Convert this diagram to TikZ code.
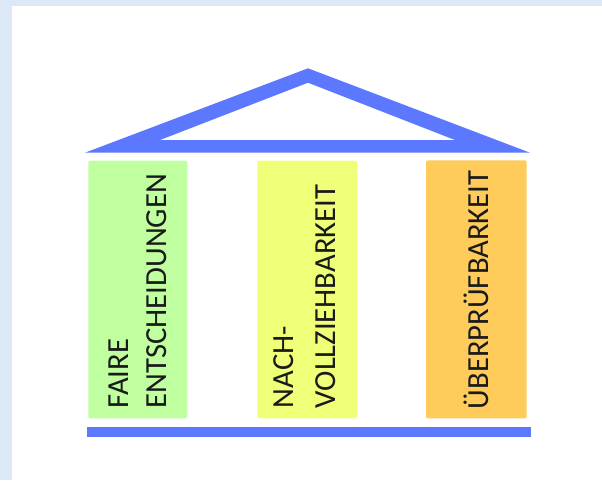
\documentclass[tikz,border=0pt]{standalone}
\usepackage{fontspec}
\setmainfont{Carlito}
\definecolor{bgblue}{RGB}{220,232,245}
\definecolor{roofblue}{RGB}{92,120,255}
\definecolor{colgreen}{RGB}{191,255,160}
\definecolor{colyellow}{RGB}{240,255,120}
\definecolor{colorange}{RGB}{255,204,92}
\definecolor{txt}{RGB}{26,26,26}
\begin{document}
\begin{tikzpicture}[x=0.75pt,y=-0.75pt,
  pillar/.style={rounded corners=1.5pt},
  lbl/.style={rotate=90,anchor=base west,inner sep=0pt,text=txt,
    font=\fontsize{23}{28}\selectfont}]
\useasboundingbox (0,0) rectangle (602,480);
% background frame
\fill[bgblue] (0,0) rectangle (602,480);
\fill[white] (12,6) rectangle (602,480);
% roof
\fill[roofblue,even odd rule]
  (85,152.7) -- (308,68.3) -- (530,152.7) -- cycle
  (160,140) -- (308,82.7) -- (455,140) -- cycle;
% pillars
\fill[colgreen,pillar] (88.3,160.7) rectangle (187.3,418.3);
\fill[colyellow,pillar] (257.3,160.7) rectangle (357.3,418.3);
\fill[colorange,pillar] (426,160.3) rectangle (526.7,418.3);
% base
\fill[roofblue] (87.3,427) rectangle (530.7,437);
% labels
\node[lbl] (f1) at (128.3,408.5) {FAIRE};
\node[lbl] (f2) at (166.5,408.5) {ENTSCHEIDUNGEN};
\node[lbl] (n1) at (293.3,408.5) {NACH-};
\node[lbl] (n2) at (335,408.5) {VOLLZIEHBARKEIT};
\node[lbl] (u1) at (488.3,409.5) {ÜBERPRÜFBARKEIT};
\end{tikzpicture}
\end{document}
